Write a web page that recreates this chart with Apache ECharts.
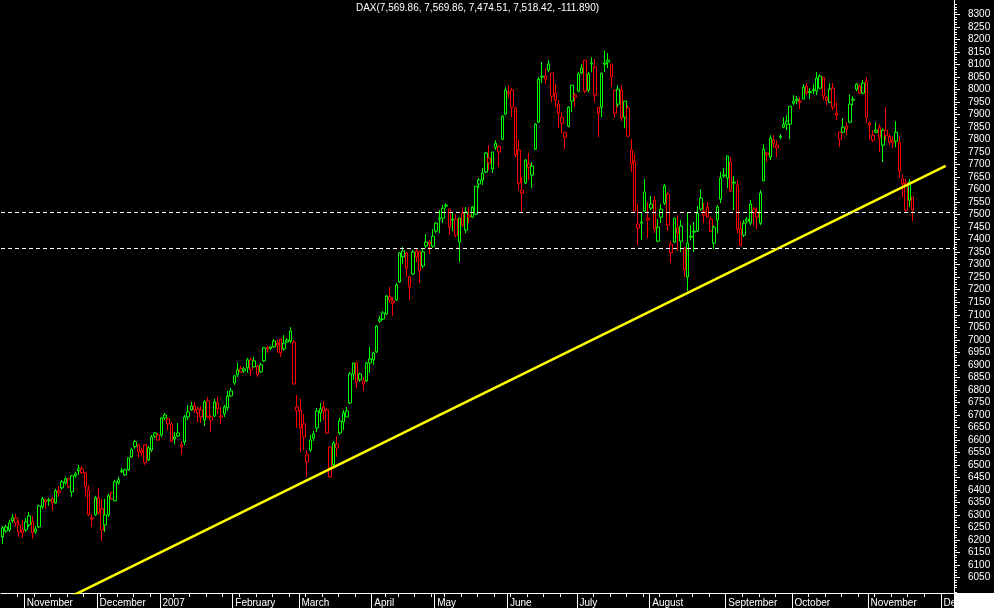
<!DOCTYPE html>
<html>
<head>
<meta charset="utf-8">
<script src="https://cdn.jsdelivr.net/npm/echarts@6/dist/echarts.min.js"></script>
<style>html,body{margin:0;padding:0;background:#000;}#c{width:994px;height:608px;}</style>
</head>
<body>
<div id="c"></div>
<script>
// ---- calendar (trading days, Xetra) ----
const firstDay = '2006-10-23';
const dayCount = 288;
const holidays = ['2006-12-25','2006-12-26','2007-01-01','2007-04-06','2007-04-09','2007-05-01'];
const monthNames = ['2007','February','March','April','May','June','July','August','September','October','November','December'];

// ---- DAX daily OHLC, 23 Oct 2006 .. 20 Nov 2007 ----
const open = [
6213,6237,6241,6277,6289,6261,6241,6241,6261,6273,
6233,6253,6333,6361,6357,6365,6349,6397,6409,6429,
6445,6393,6457,6477,6485,6469,6401,6289,6301,6369,
6325,6261,6301,6389,6357,6429,6473,6461,6481,6533,
6573,6581,6557,6581,6521,6560,6616,6620,6620,6688,
6684,6664,6604,6616,6580,6592,6692,6720,6736,6724,
6720,6680,6756,6692,6696,6748,6696,6704,6728,6776,
6828,6860,6884,6876,6888,6920,6892,6896,6872,6916,
6968,6966,6972,6987,7003,6964,6991,6995,6991,6732,
6720,6664,6513,6560,6608,6648,6708,6732,6720,6572,
6501,6568,6628,6672,6692,6748,6864,6908,6840,6836,
6836,6908,6920,6952,7075,7083,7103,7171,7155,7159,
7231,7331,7347,7211,7263,7355,7351,7295,7375,7390,
7374,7434,7482,7486,7534,7522,7478,7482,7390,7506,
7438,7498,7490,7502,7622,7638,7670,7726,7682,7769,
7773,7801,7901,7989,7997,7925,7758,7586,7626,7702,
7658,7761,7869,8049,8053,8077,8065,7985,7905,7889,
7829,7853,7953,7977,7993,8065,8117,7997,8101,8089,
7929,7929,8101,8109,8101,7997,7941,7997,7889,7925,
7758,7714,7446,7466,7514,7486,7526,7558,7394,7490,
7546,7582,7382,7390,7446,7394,7367,7251,7410,7430,
7434,7522,7514,7530,7482,7386,7478,7562,7654,7646,
7710,7626,7618,7442,7418,7474,7466,7522,7510,7466,
7634,7746,7730,7797,7766,7809,7849,7861,7861,7945,
7955,7953,7961,8013,7987,7995,7993,8005,8049,7957,
7949,8005,7905,7829,7829,7853,7869,7957,8001,8013,
7985,8033,7865,7797,7829,7849,7777,7837,7789,7797,
7829,7789,7642,7626,7558,7569.86
];
const high = [
6257,6261,6281,6305,6305,6277,6281,6289,6313,6297,
6257,6341,6373,6365,6369,6373,6405,6417,6441,6453,
6449,6461,6473,6501,6497,6469,6421,6305,6377,6409,
6365,6365,6385,6393,6441,6453,6489,6485,6529,6569,
6601,6585,6569,6581,6577,6620,6632,6628,6692,6708,
6688,6672,6632,6668,6596,6700,6740,6752,6752,6732,
6736,6760,6772,6700,6764,6772,6732,6740,6796,6808,
6860,6908,6896,6892,6928,6928,6932,6896,6908,6972,
6976,6976,7003,6999,7007,7019,7007,7051,6999,6780,
6764,6704,6560,6620,6636,6728,6748,6756,6728,6572,
6596,6616,6688,6720,6732,6872,6908,6912,6868,6852,
6912,6972,6952,7059,7095,7115,7179,7211,7171,7227,
7351,7371,7351,7255,7359,7363,7351,7367,7422,7398,
7442,7470,7518,7538,7546,7522,7510,7502,7486,7530,
7530,7530,7534,7614,7646,7686,7750,7777,7750,7797,
7777,7897,8009,8017,8005,7929,7797,7650,7722,7746,
7710,7865,8049,8109,8085,8117,8065,8021,7957,7909,
7829,7933,8017,7985,8069,8101,8117,8069,8129,8121,
7929,8065,8156,8145,8101,7997,8017,8017,7953,7937,
7801,7742,7542,7510,7642,7550,7574,7574,7482,7542,
7622,7590,7394,7486,7498,7478,7367,7506,7458,7470,
7534,7602,7546,7550,7490,7458,7538,7670,7686,7734,
7730,7654,7638,7474,7478,7490,7558,7530,7530,7598,
7781,7750,7817,7817,7797,7821,7889,7897,7933,7977,
7973,7969,8021,8025,8005,8021,8069,8061,8049,7973,
8025,8025,7949,7829,7885,7869,7981,7973,8025,8021,
8037,8049,7873,7837,7869,7861,7845,7929,7821,7813,
7873,7813,7662,7642,7642,7569.86
];
const low = [
6185,6229,6233,6269,6253,6213,6209,6233,6253,6205,
6225,6249,6325,6325,6337,6317,6345,6373,6401,6421,
6409,6373,6449,6461,6465,6373,6297,6253,6297,6301,
6197,6233,6293,6361,6357,6421,6469,6457,6477,6529,
6565,6529,6537,6501,6517,6552,6608,6596,6612,6680,
6640,6592,6584,6612,6541,6580,6680,6716,6708,6672,
6668,6656,6688,6632,6692,6704,6664,6692,6716,6772,
6820,6852,6868,6868,6868,6856,6892,6852,6868,6912,
6948,6960,6968,6948,6932,6956,6987,6987,6820,6648,
6552,6560,6453,6552,6596,6632,6672,6680,6624,6449,
6493,6533,6620,6640,6692,6744,6840,6808,6832,6796,
6832,6868,6900,6948,7067,7079,7099,7147,7095,7155,
7227,7303,7251,7159,7259,7311,7227,7287,7367,7343,
7367,7426,7426,7466,7526,7418,7434,7410,7311,7450,
7426,7466,7486,7498,7606,7618,7666,7678,7666,7758,
7690,7797,7897,7965,7889,7730,7598,7510,7622,7638,
7606,7758,7865,8025,8021,8069,7949,7929,7845,7825,
7761,7849,7909,7929,7989,8061,7985,7989,8069,7949,
7809,7889,8069,8085,8009,7889,7929,7873,7845,7809,
7670,7514,7378,7398,7510,7406,7518,7426,7390,7466,
7538,7434,7307,7386,7355,7351,7251,7195,7398,7351,
7430,7514,7466,7486,7430,7363,7426,7546,7646,7606,
7590,7518,7426,7374,7410,7466,7458,7458,7442,7458,
7634,7710,7718,7769,7730,7801,7845,7837,7801,7937,
7941,7921,7961,7977,7961,7981,7977,8001,7957,7937,
7945,7917,7877,7769,7825,7817,7865,7937,7993,7985,
7981,7865,7801,7789,7825,7750,7710,7797,7777,7766,
7769,7646,7570,7510,7530,7474.51
];
const close = [
6249,6253,6269,6289,6269,6233,6229,6273,6297,6229,
6245,6337,6365,6353,6361,6349,6397,6389,6433,6445,
6413,6457,6465,6485,6469,6413,6301,6285,6369,6309,
6241,6301,6377,6365,6433,6441,6477,6481,6529,6561,
6593,6553,6549,6509,6569,6612,6628,6600,6688,6700,
6664,6596,6612,6628,6572,6692,6712,6736,6720,6708,
6692,6752,6692,6680,6752,6724,6692,6732,6776,6796,
6856,6880,6872,6884,6920,6880,6916,6860,6900,6968,
6964,6972,6995,6979,6948,6987,6999,7035,6824,6716,
6648,6612,6541,6600,6624,6716,6724,6716,6628,6453,
6588,6584,6676,6708,6716,6864,6908,6832,6864,6824,
6908,6924,6948,7055,7083,7107,7175,7159,7147,7219,
7347,7355,7287,7251,7351,7331,7275,7351,7390,7382,
7414,7466,7486,7526,7538,7450,7482,7418,7486,7458,
7510,7490,7530,7614,7638,7666,7746,7706,7750,7785,
7750,7893,7997,7985,7929,7738,7626,7598,7718,7690,
7694,7861,8041,8053,8041,8101,7973,7957,7941,7865,
7809,7929,8017,7969,8061,8085,7993,8061,8105,7977,
7905,8065,8105,8117,8049,7905,8001,7885,7953,7813,
7702,7514,7462,7470,7590,7478,7542,7442,7450,7522,
7614,7458,7347,7486,7426,7454,7279,7386,7414,7434,
7506,7566,7498,7490,7434,7450,7530,7646,7658,7734,
7594,7630,7442,7378,7466,7482,7542,7506,7490,7586,
7761,7738,7805,7785,7777,7813,7861,7873,7933,7953,
7961,7949,8009,7985,7991,7999,8045,8053,7973,7969,
8001,7929,7897,7801,7849,7841,7941,7961,8021,7985,
8025,7889,7857,7817,7837,7809,7837,7817,7813,7789,
7793,7674,7622,7518,7630.31,7518.42
];
// support levels and trend line (value space)
const levels = [7509, 7365];
const trendLine = [[18, 5958], [285, 7695]];
// right axis ticks/labels
const labelValues = [];
for (let v = 6050; v <= 8300; v += 50) labelValues.push(v);
const minorValues = [];
for (let v = 5990; v <= 8350; v += 10) if (v % 50 !== 0) minorValues.push(v);

// ---- build categories ----
function buildDates() {
  const out = [];
  const d = new Date(firstDay + 'T00:00:00Z');
  while (out.length < dayCount) {
    const wd = d.getUTCDay();
    const s = d.toISOString().slice(0, 10);
    if (wd !== 0 && wd !== 6 && holidays.indexOf(s) < 0) out.push(s);
    d.setUTCDate(d.getUTCDate() + 1);
  }
  return out;
}
const dates = buildDates();
const dow = s => new Date(s + 'T00:00:00Z').getUTCDay();
const isMonthStart = i => i > 0 && dates[i].slice(5, 7) !== dates[i - 1].slice(5, 7);
const isWeekStart = i => i > 0 && dow(dates[i]) < dow(dates[i - 1]) && !isMonthStart(i);

const GREEN = '#00ff00', RED = '#ff0000';
const candles = open.map((o, i) => {
  const ref = i > 0 ? close[i - 1] : o;
  const col = close[i] >= ref ? GREEN : RED;
  return {
    value: [o, close[i], low[i], high[i]],
    itemStyle: { color: '#000', color0: col, borderColor: col, borderColor0: col }
  };
});

const fmt = v => v.toLocaleString('en-US', { minimumFractionDigits: 2, maximumFractionDigits: 2 });
const n = close.length - 1;
const titleText = 'DAX(' + fmt(open[n]) + ', ' + fmt(high[n]) + ', ' + fmt(low[n]) + ', ' + fmt(close[n]) + ', ' +
  (close[n] - close[n - 1]).toFixed(3) + ')';

const chart = echarts.init(document.getElementById('c'), null, { renderer: 'canvas' });
const font = 'Liberation Sans';
chart.setOption({
  backgroundColor: '#000',
  animation: false,
  grid: { left: 1, right: 40, top: 0, bottom: 15 },
  graphic: [{
    type: 'text', x: 477.5, y: 8,
    style: { text: titleText, fill: '#fff', font: '10px "Liberation Sans"', textAlign: 'center', textVerticalAlign: 'middle' }
  }, {
    type: 'rect', shape: { x: 955, y: 593, width: 39, height: 15 },
    style: { fill: '#fff' }, z: 100
  }],
  xAxis: [{
    type: 'category', data: dates, boundaryGap: true,
    axisLine: { show: true, lineStyle: { color: '#fff', width: 1 } },
    axisTick: { show: true, interval: (i) => isWeekStart(i), length: 4, lineStyle: { color: '#fff' } },
    axisLabel: { show: false },
    splitLine: { show: false }
  }, {
    type: 'category', data: dates, boundaryGap: true, position: 'bottom',
    axisLine: { show: false },
    axisTick: { show: true, interval: (i) => isMonthStart(i), length: 16, lineStyle: { color: '#fff' } },
    axisLabel: {
      show: true, interval: (i) => isMonthStart(i), align: 'left', margin: 5, color: '#fff',
      fontFamily: font, fontSize: 10, padding: [0, 0, 0, 1],
      formatter: (v) => monthNames[parseInt(v.slice(5, 7), 10) - 1]
    },
    splitLine: { show: false }
  }],
  yAxis: [{
    type: 'value', position: 'right', min: 5989, max: 8357, scale: true,
    axisLine: { show: true, lineStyle: { color: '#fff', width: 1 } },
    axisTick: { show: true, customValues: labelValues, length: 6, lineStyle: { color: '#fff' } },
    axisLabel: { show: true, customValues: labelValues, margin: 14, color: '#fff', fontFamily: font, fontSize: 10,
      formatter: (v) => String(v) },
    splitLine: { show: false }
  }, {
    type: 'value', position: 'right', min: 5989, max: 8357, scale: true,
    axisLine: { show: false },
    axisTick: { show: true, customValues: minorValues, length: 3, lineStyle: { color: '#fff' } },
    axisLabel: { show: false },
    splitLine: { show: false }
  }],
  series: [{
    type: 'candlestick', xAxisIndex: 0, yAxisIndex: 0, data: candles, barWidth: 3,
    markLine: {
      silent: true, symbol: 'none', label: { show: false },
      lineStyle: { color: '#fff', type: [4, 3], width: 1 },
      data: levels.map(v => ({ yAxis: v }))
    }
  }, {
    type: 'line', xAxisIndex: 0, yAxisIndex: 0, data: trendLine, showSymbol: false, clip: true,
    lineStyle: { color: '#ffff00', width: 2.5 }, z: 3
  }]
});
</script>
</body>
</html>
